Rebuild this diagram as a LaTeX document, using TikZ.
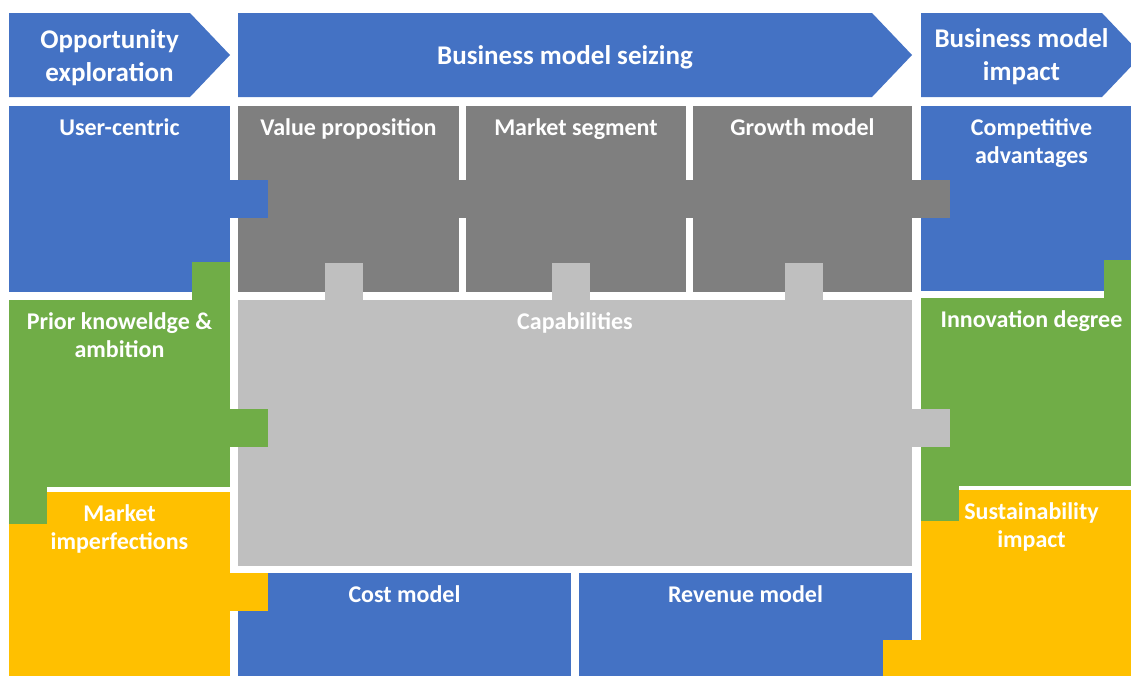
\documentclass[tikz,border=0pt]{standalone}
\usepackage{fontspec}
\setsansfont{Carlito}
\usetikzlibrary{positioning}
\definecolor{bmblue}{HTML}{4472C4}
\definecolor{bmgreen}{HTML}{70AD47}
\definecolor{bmyellow}{HTML}{FFC000}
\definecolor{bmdark}{HTML}{7F7F7F}
\definecolor{bmlight}{HTML}{BFBFBF}

\begin{document}
\begin{tikzpicture}[font=\sffamily\bfseries, x=1pt, y=-1pt]
    \tikzstyle{field}=[anchor=north west, inner sep=0pt, outer sep=0pt]
    \tikzstyle{side}=[field, minimum width=221pt]
    \tikzstyle{title}=[text=white, font=\sffamily\bfseries\fontsize{24}{28}\selectfont, align=center, anchor=north, inner sep=0pt, yshift=-12pt]
    \tikzstyle{head}=[text=white, font=\sffamily\bfseries\fontsize{27}{32.5}\selectfont, align=center, inner sep=0pt]
    \tikzstyle{tab}=[anchor=north west, minimum size=38pt, inner sep=0pt, outer sep=0pt]

    \useasboundingbox[fill=white] (0,0) rectangle (1131,675);

    % phases
    \fill[bmblue] (9,13) -- (190,13) -- (230,55) -- (190,97) -- (9,97) -- cycle;
    \fill[bmblue] (238,13) -- (872,13) -- (912,55) -- (872,97) -- (238,97) -- cycle;
    \fill[bmblue] (921,13) -- (1102,13) -- (1142,55) -- (1102,97) -- (921,97) -- cycle;
    \node[head] (explore) at (109.5,57.5) {Opportunity\\exploration};
    \node[head] (seize) at (565,57) {Business model seizing};
    \node[head] (impact) at (1021.5,56.5) {Business model\\impact};

    % left column
    \node[side, fill=bmblue, minimum height=186pt, label={[title]north:User-centric}] (user) at (9,106) {};
    \node[side, fill=bmgreen, minimum height=187pt, label={[title]north:Prior knoweldge \&\\ambition}] (prior) at (9,300) {};
    \node[side, fill=bmyellow, minimum height=190pt, label={[title]north:Market\\imperfections}] (imperf) at (9,492) {};

    % business model
    \node[field, fill=bmdark, minimum width=221pt, minimum height=186pt, label={[title]north:Value proposition}] (value) at (238,106) {};
    \node[field, fill=bmdark, minimum width=220pt, minimum height=186pt, label={[title]north:Market segment}] (segment) at (466,106) {};
    \node[field, fill=bmdark, minimum width=219pt, minimum height=186pt, label={[title]north:Growth model}] (growth) at (693,106) {};
    \node[field, fill=bmlight, minimum width=674pt, minimum height=266pt, label={[title]north:Capabilities}] (capab) at (238,300) {};
    \node[field, fill=bmblue, minimum width=333pt, minimum height=110pt, label={[title]north:Cost model}] (cost) at (238,573) {};
    \node[field, fill=bmblue, minimum width=333pt, minimum height=110pt, label={[title]north:Revenue model}] (revenue) at (579,573) {};

    % right column
    \node[side, fill=bmblue, minimum height=185pt, label={[title]north:Competitive\\advantages}] (advant) at (921,106) {};
    \node[side, fill=bmgreen, minimum height=188pt, label={[title]north:Innovation degree}] (innov) at (921,298) {};
    \node[side, fill=bmyellow, minimum height=192pt, label={[title]north:Sustainability\\impact}] (sustain) at (921,490) {};

    % tabs
    \node[tab, fill=bmblue] (tabuser) at (230,180) {};
    \node[tab, fill=bmdark] (tabvalue) at (458,180) {};
    \node[tab, fill=bmdark] (tabsegment) at (685,180) {};
    \node[tab, fill=bmdark] (tabgrowth) at (912,180) {};
    \node[tab, fill=bmlight] (tabcap1) at (325,263) {};
    \node[tab, fill=bmlight] (tabcap2) at (552,263) {};
    \node[tab, fill=bmlight] (tabcap3) at (785,263) {};
    \node[tab, fill=bmlight] (tabcap4) at (912,409) {};
    \node[tab, fill=bmgreen] (tabprior1) at (192,262) {};
    \node[tab, fill=bmgreen] (tabprior2) at (230,409) {};
    \node[tab, fill=bmgreen] (tabprior3) at (9,486) {};
    \node[tab, fill=bmgreen] (tabinnov1) at (1104,260) {};
    \node[tab, fill=bmgreen] (tabinnov2) at (921,483) {};
    \node[tab, fill=bmyellow] (tabimperf) at (230,573) {};
    \node[tab, fill=bmyellow] (tabsustain) at (883,640) {};
\end{tikzpicture}
\end{document}
